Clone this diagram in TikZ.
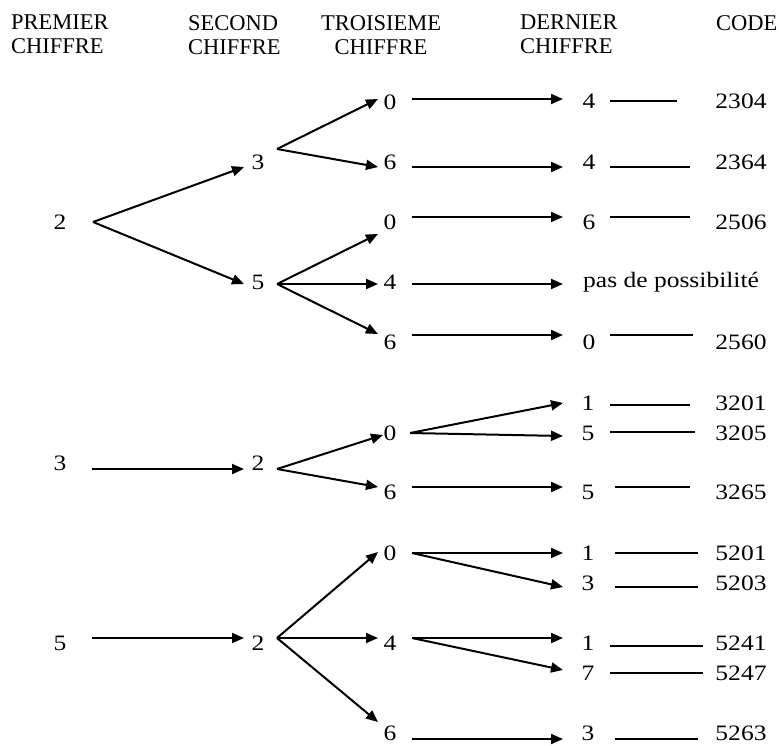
\documentclass[tikz,border=0pt]{standalone}
\usepackage{fontspec}
\setmainfont{Liberation Serif}
\newfontfamily\bodyfont[FakeStretch=1.16]{Liberation Serif}
\usetikzlibrary{arrows.meta,calc}
\begin{document}
\begin{tikzpicture}[x=1pt,y=-1pt,
  hdr/.style={inner sep=0pt,font=\fontsize{22.5}{24}\selectfont},
  num/.style={inner sep=0pt,font=\bodyfont\fontsize{22}{24}\selectfont},
  arr/.style={line width=2pt,-{Triangle[length=12pt,width=10pt]}},
  thin/.style={line width=1.2pt}]
\useasboundingbox (0,0) rectangle (779,745);
% headers
\node[hdr,anchor=north west,align=left] (h1) at (11,15) {PREMIER\\CHIFFRE};
\node[hdr,anchor=north west,align=left] (h2) at (188,15) {SECOND\\CHIFFRE};
\node[hdr,anchor=north,align=center] (h3) at (381,15) {TROISIEME\\CHIFFRE};
\node[hdr,anchor=north west,align=left] (h4) at (520,15) {DERNIER\\CHIFFRE};
\node[hdr,anchor=north west,align=left] (h5) at (716,15) {CODE};
% level 1
\node[num] (p2) at (60,222) {2};
\node[num] (p3) at (60,463) {3};
\node[num] (p5) at (60,643) {5};
% level 2
\node[num] (s3) at (258,162) {3};
\node[num] (s5) at (258,282) {5};
\node[num] (s2a) at (258,463) {2};
\node[num] (s2b) at (258,643) {2};
% level 3
\node[num] (t1) at (390,102) {0};
\node[num] (t2) at (390,162) {6};
\node[num] (t3) at (390,222) {0};
\node[num] (t4) at (390,282) {4};
\node[num] (t5) at (390,342) {6};
\node[num] (t6) at (390,433) {0};
\node[num] (t7) at (390,492) {6};
\node[num] (t8) at (390,553) {0};
\node[num] (t9) at (390,643) {4};
\node[num] (t10) at (390,733) {6};
% level 4
\node[num] (f1) at (589,101) {4};
\node[num] (f2) at (589,162) {4};
\node[num] (f3) at (589,222) {6};
\node[num,anchor=west] (f4) at (583,282) {pas de possibilité};
\node[num] (f5) at (589,342) {0};
\node[num] (f6) at (588,403) {1};
\node[num] (f7) at (588,433) {5};
\node[num] (f8) at (588,492) {5};
\node[num] (f9) at (588,553) {1};
\node[num] (f10) at (588,583) {3};
\node[num] (f11) at (588,643) {1};
\node[num] (f12) at (588,673) {7};
\node[num] (f13) at (588,733) {3};
% codes
\node[num] (c1) at (741,101) {2304};
\node[num] (c2) at (741,162) {2364};
\node[num] (c3) at (741,222) {2506};
\node[num] (c5) at (741,342) {2560};
\node[num] (c6) at (741,403) {3201};
\node[num] (c7) at (741,433) {3205};
\node[num] (c8) at (741,492) {3265};
\node[num] (c9) at (741,553) {5201};
\node[num] (c10) at (741,583) {5203};
\node[num] (c11) at (741,643) {5241};
\node[num] (c12) at (741,673) {5247};
\node[num] (c13) at (741,733) {5263};
% level 1 -> 2
\draw[arr] ($(p2)+(33,0)$) -- ($(s3)+(-14,5)$);
\draw[arr] ($(p2)+(33,0)$) -- ($(s5)+(-14,2)$);
\draw[arr] ($(p3)+(32,6)$) -- ($(s2a)+(-14,6)$);
\draw[arr] ($(p5)+(32,-5)$) -- ($(s2b)+(-14,-5)$);
% level 2 -> 3
\draw[arr] ($(s3)+(19,-13)$) -- ($(t1)+(-12,-3)$);
\draw[arr] ($(s3)+(19,-13)$) -- ($(t2)+(-12,5)$);
\draw[arr] ($(s5)+(19,2)$) -- ($(t3)+(-12,12)$);
\draw[arr] ($(s5)+(19,2)$) -- ($(t4)+(-12,2)$);
\draw[arr] ($(s5)+(19,2)$) -- ($(t5)+(-12,-8)$);
\draw[arr] ($(s2a)+(19,6)$) -- ($(t6)+(-7,2)$);
\draw[arr] ($(s2a)+(19,6)$) -- ($(t7)+(-12,-5)$);
\draw[arr] ($(s2b)+(19,-5)$) -- ($(t8)+(-12,-1)$);
\draw[arr] ($(s2b)+(19,-5)$) -- ($(t9)+(-12,-5)$);
\draw[arr] ($(s2b)+(19,-5)$) -- ($(t10)+(-12,-11)$);
% level 3 -> 4
\draw[arr] ($(t1)+(22,-3)$) -- ($(f1)+(-26,-2)$);
\draw[arr] ($(t2)+(22,5)$) -- ($(f2)+(-26,5)$);
\draw[arr] ($(t3)+(22,-5)$) -- ($(f3)+(-26,-5)$);
\draw[arr] ($(t4)+(22,2)$) -- ($(f4.west)+(-20,2)$);
\draw[arr] ($(t5)+(22,-7)$) -- ($(f5)+(-26,-7)$);
\draw[arr] ($(t6)+(20,0)$) -- ($(f6)+(-25,0)$);
\draw[arr] ($(t6)+(20,0)$) -- ($(f7)+(-25,3)$);
\draw[arr] ($(t7)+(22,-5)$) -- ($(f8)+(-25,-5)$);
\draw[arr] ($(t8)+(22,0)$) -- ($(f9)+(-25,0)$);
\draw[arr] ($(t8)+(22,0)$) -- ($(f10)+(-25,4)$);
\draw[arr] ($(t9)+(22,-5)$) -- ($(f11)+(-25,-5)$);
\draw[arr] ($(t9)+(22,-5)$) -- ($(f12)+(-25,-3)$);
\draw[arr] ($(t10)+(22,6)$) -- ($(f13)+(-25,6)$);
% level 4 -> code
\draw[thin] ($(f1)+(21,0)$) -- ($(c1)+(-64,0)$);
\draw[thin] ($(f2)+(21,5)$) -- ($(c2)+(-51,5)$);
\draw[thin] ($(f3)+(21,-5)$) -- ($(c3)+(-51,-5)$);
\draw[thin] ($(f5)+(21,-7)$) -- ($(c5)+(-48,-7)$);
\draw[thin] ($(f6)+(22,2)$) -- ($(c6)+(-51,2)$);
\draw[thin] ($(f7)+(22,-1)$) -- ($(c7)+(-46,-1)$);
\draw[thin] ($(f8)+(27,-5)$) -- ($(c8)+(-51,-5)$);
\draw[thin] ($(f9)+(27,0)$) -- ($(c9)+(-43,0)$);
\draw[thin] ($(f10)+(27,4)$) -- ($(c10)+(-43,4)$);
\draw[thin] ($(f11)+(22,3)$) -- ($(c11)+(-38,3)$);
\draw[thin] ($(f12)+(22,0)$) -- ($(c12)+(-38,0)$);
\draw[thin] ($(f13)+(27,6)$) -- ($(c13)+(-43,6)$);
\end{tikzpicture}
\end{document}
